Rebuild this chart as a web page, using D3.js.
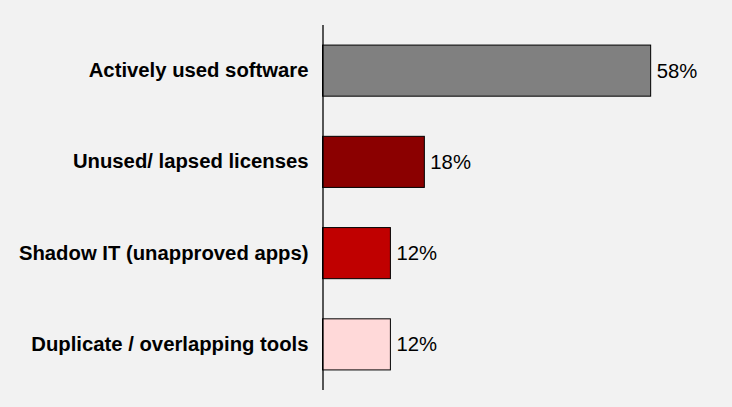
<!DOCTYPE html>
<html>
<head>
<meta charset="utf-8">
<script src="https://cdn.jsdelivr.net/npm/d3@7"></script>
<style>
  html, body { margin: 0; padding: 0; background: #f2f2f2; }
  svg { display: block; }
  .cat { font-family: "Liberation Sans", Arial, sans-serif; font-weight: bold; font-size: 20.3px; fill: #000; }
  .val { font-family: "Liberation Sans", Arial, sans-serif; font-size: 20.3px; fill: #000; }
</style>
</head>
<body>
<svg id="chart" width="732" height="407"></svg>
<script>
// data
const categories = [
  "Actively used software",
  "Unused/ lapsed licenses",
  "Shadow IT (unapproved apps)",
  "Duplicate / overlapping tools"
];
const shares = [58, 18, 12, 12];
const barColors = ["#808080", "#8b0000", "#c00000", "#ffd9d9"];

const W = 732, H = 407;
const plotLeft = 322.5, plotTop = 25, plotBottom = 390;

const svg = d3.select("#chart");
svg.append("rect").attr("width", W).attr("height", H).attr("fill", "#f2f2f2");

const x = d3.scaleLinear().domain([0, 60]).range([plotLeft, plotLeft + 60 * 5.658]);
const y = d3.scaleBand()
  .domain(categories)
  .range([plotTop, plotBottom])
  .paddingInner(0.44)
  .paddingOuter(0.22);

const rows = categories.map((c, i) => ({ cat: c, v: shares[i], color: barColors[i] }));

// bars
svg.selectAll("rect.bar")
  .data(rows)
  .enter().append("rect")
  .attr("class", "bar")
  .attr("x", x(0))
  .attr("y", d => y(d.cat))
  .attr("width", d => x(d.v) - x(0))
  .attr("height", y.bandwidth())
  .attr("fill", d => d.color)
  .attr("stroke", "#000")
  .attr("stroke-width", 1);

// value labels
svg.selectAll("text.val")
  .data(rows)
  .enter().append("text")
  .attr("class", "val")
  .attr("x", d => x(d.v) + 6)
  .attr("y", d => y(d.cat) + y.bandwidth() / 2)
  .attr("dy", "0.35em")
  .text(d => d.v + "%");

// category axis (left) - only the line, labels bold
const yAxis = svg.append("g")
  .attr("transform", `translate(${plotLeft},0)`)
  .call(d3.axisLeft(y).tickSize(0).tickPadding(14));
yAxis.select(".domain").attr("d", `M0.5,${plotTop}V${plotBottom}`).attr("stroke", "#000").attr("stroke-width", 1.3);
yAxis.selectAll(".tick text")
  .attr("class", "cat")
  .attr("font-family", null)
  .attr("font-size", null)
  .attr("fill", null);
</script>
</body>
</html>
